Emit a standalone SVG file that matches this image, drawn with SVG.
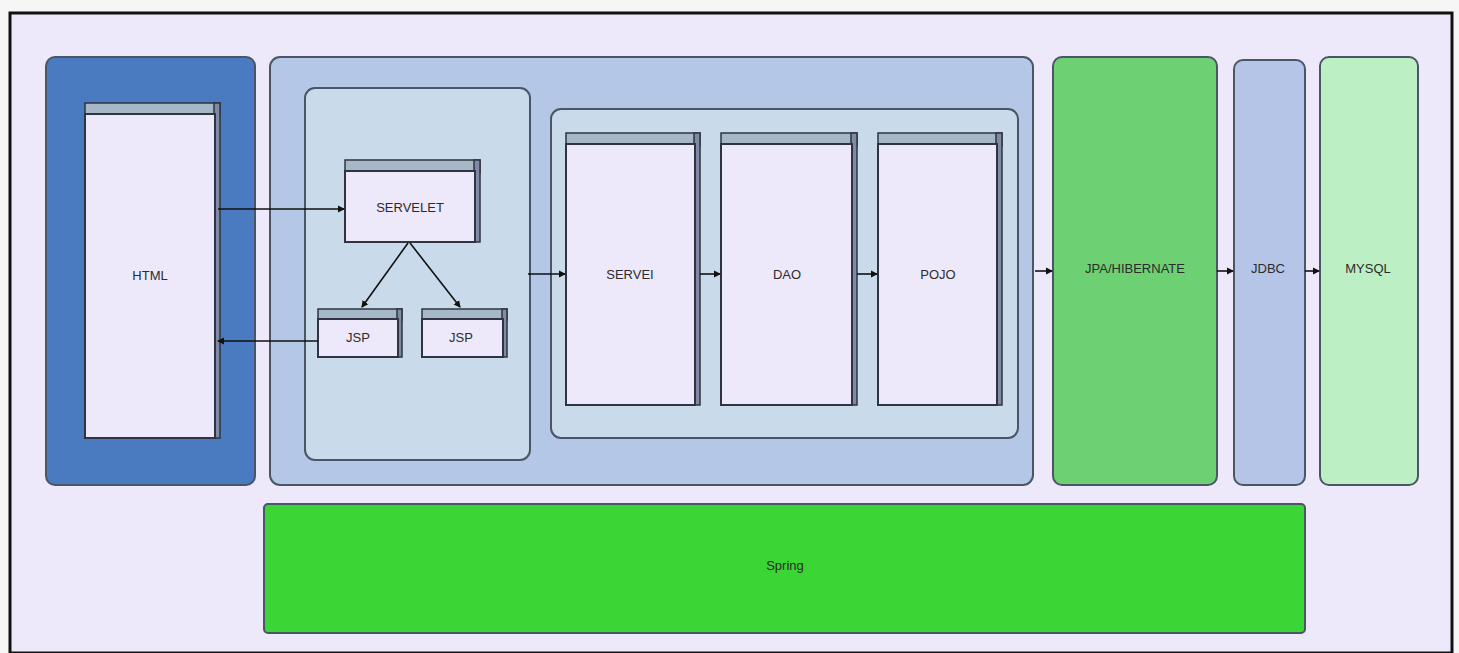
<svg xmlns="http://www.w3.org/2000/svg" width="1459" height="653" viewBox="0 0 1459 653">
  <style>
    .lbl { font-family: "Liberation Sans", Arial, sans-serif; font-size: 13px; fill: #2b2b2b; text-anchor: middle; dominant-baseline: middle; }
    .panel { stroke: #4a5566; stroke-width: 2; }
    .face { fill: #ede9fb; stroke: #2f3440; stroke-width: 2; }
    .top { fill: #a6b8c8; stroke: #2f3440; stroke-width: 1.5; }
    .side { fill: #7f8aa6; stroke: #2f3440; stroke-width: 1.5; }
    .conn { stroke: #111; stroke-width: 1.6; fill: none; marker-end: url(#dot); }
  </style>
  <defs>
    <marker id="dot" markerWidth="8" markerHeight="8" refX="6" refY="4" orient="auto" markerUnits="userSpaceOnUse">
      <path d="M0,0.5 L7,4 L0,7.5 Z" fill="#111"/>
    </marker>
  </defs>

  <!-- page -->
  <rect x="0" y="0" width="1459" height="653" fill="#f6f6f6"/>
  <rect x="10" y="13" width="1442" height="640" fill="#ede9fb" stroke="#111" stroke-width="3"/>

  <!-- client tier -->
  <g id="client">
    <rect x="46" y="57" width="209" height="428" rx="9" fill="#4a7abf" class="panel" stroke="#2c3e5a"/>
  </g>
  <g id="html">
    <rect x="85" y="103" width="135" height="13" class="top"/>
    <rect x="214" y="103" width="6" height="335" class="side"/>
    <rect x="85" y="114" width="130" height="324" class="face"/>
    <text class="lbl" x="150" y="277">HTML</text>
  </g>

  <!-- application server -->
  <g id="appserver">
    <rect x="270" y="57" width="763" height="428" rx="10" fill="#b4c7e7" class="panel" stroke="#7c8ea6"/>
  </g>
  <g id="web">
    <rect x="305" y="88" width="225" height="372" rx="10" fill="#c9dbeb" class="panel" stroke="#5e6e80"/>
  </g>
  <g id="business">
    <rect x="551" y="109" width="467" height="329" rx="10" fill="#c9dbeb" class="panel" stroke="#5e6e80"/>
  </g>

  <g id="servelet">
    <rect x="345" y="160" width="135" height="13" class="top"/>
    <rect x="474" y="160" width="6" height="82" class="side"/>
    <rect x="345" y="171" width="130" height="71" class="face"/>
    <text class="lbl" x="410" y="209">SERVELET</text>
  </g>
  <g id="jsp1">
    <rect x="318" y="309" width="84" height="11" class="top"/>
    <rect x="397" y="309" width="5" height="48" class="side"/>
    <rect x="318" y="319" width="80" height="38" class="face"/>
    <text class="lbl" x="358" y="339">JSP</text>
  </g>
  <g id="jsp2">
    <rect x="422" y="309" width="85" height="11" class="top"/>
    <rect x="502" y="309" width="5" height="48" class="side"/>
    <rect x="422" y="319" width="81" height="38" class="face"/>
    <text class="lbl" x="461" y="339">JSP</text>
  </g>

  <g id="servei">
    <rect x="566" y="133" width="134" height="13" class="top"/>
    <rect x="694" y="133" width="6" height="272" class="side"/>
    <rect x="566" y="144" width="129" height="261" class="face"/>
    <text class="lbl" x="630" y="276">SERVEI</text>
  </g>
  <g id="dao">
    <rect x="721" y="133" width="136" height="13" class="top"/>
    <rect x="851" y="133" width="6" height="272" class="side"/>
    <rect x="721" y="144" width="131" height="261" class="face"/>
    <text class="lbl" x="787" y="276">DAO</text>
  </g>
  <g id="pojo">
    <rect x="878" y="133" width="124" height="13" class="top"/>
    <rect x="996" y="133" width="6" height="272" class="side"/>
    <rect x="878" y="144" width="119" height="261" class="face"/>
    <text class="lbl" x="938" y="276">POJO</text>
  </g>

  <!-- persistence tier -->
  <g id="jpa">
    <rect x="1053" y="57" width="164" height="428" rx="9" fill="#6dd073" class="panel" stroke="#2f5a35"/>
    <text class="lbl" x="1135" y="270" fill="#1f4d24">JPA/HIBERNATE</text>
  </g>
  <g id="jdbc">
    <rect x="1234" y="60" width="71" height="425" rx="9" fill="#b4c5e8" class="panel" stroke="#4a5566"/>
    <text class="lbl" x="1268" y="270" fill="#2f3f78">JDBC</text>
  </g>
  <g id="mysql">
    <rect x="1320" y="57" width="98" height="428" rx="9" fill="#bdefc4" class="panel" stroke="#5a6a5e"/>
    <text class="lbl" x="1368" y="270" fill="#2f5a35">MYSQL</text>
  </g>

  <!-- framework -->
  <g id="spring">
    <rect x="264" y="504" width="1041" height="129" rx="4" fill="#3bd536" class="panel" stroke="#2f5a35"/>
    <text class="lbl" x="785" y="567" fill="#1a2a1a">Spring</text>
  </g>

  <!-- connectors -->
  <g id="connectors">
    <line class="conn" x1="218" y1="209" x2="344" y2="209"/>
    <line class="conn" x1="318" y1="341" x2="218" y2="341"/>
    <line class="conn" x1="408" y1="243" x2="362" y2="307"/>
    <line class="conn" x1="410" y1="243" x2="460" y2="307"/>
    <line class="conn" x1="528" y1="274" x2="565" y2="274"/>
    <line class="conn" x1="700" y1="274" x2="720" y2="274"/>
    <line class="conn" x1="857" y1="274" x2="877" y2="274"/>
    <line class="conn" x1="1035" y1="271" x2="1052" y2="271"/>
    <line class="conn" x1="1217" y1="271" x2="1233" y2="271"/>
    <line class="conn" x1="1305" y1="271" x2="1319" y2="271"/>
  </g>
</svg>
